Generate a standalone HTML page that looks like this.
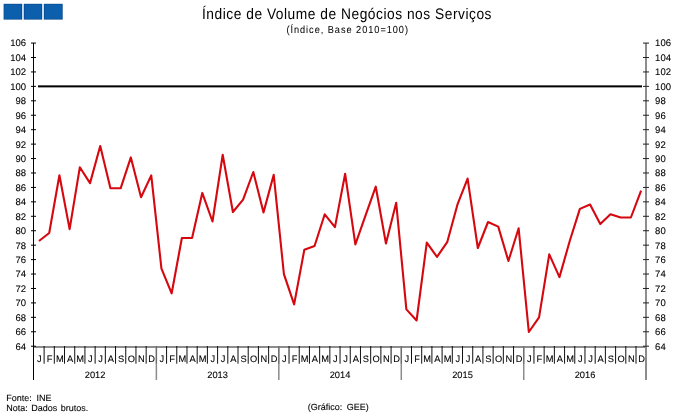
<!DOCTYPE html><html><head><meta charset="utf-8"><style>html,body{margin:0;padding:0;background:#fff;width:681px;height:418px;overflow:hidden}svg{display:block}text{font-family:"Liberation Sans",sans-serif;text-rendering:geometricPrecision;stroke:#000;stroke-width:0.1px}</style></head><body>
<svg width="681" height="418" viewBox="0 0 681 418">
<rect x="22" y="4" width="2" height="15.5" fill="#c8def0"/>
<rect x="42" y="4" width="2" height="15.5" fill="#c8def0"/>
<rect x="3.6" y="3.8" width="18.4" height="15.8" fill="#0a4d92"/>
<rect x="4.4" y="4.6" width="16.8" height="14.2" fill="#0c5fad"/>
<rect x="23.9" y="3.8" width="18.1" height="15.8" fill="#0a4d92"/>
<rect x="24.7" y="4.6" width="16.5" height="14.2" fill="#0c5fad"/>
<rect x="44" y="3.8" width="18.7" height="15.8" fill="#0a4d92"/>
<rect x="44.8" y="4.6" width="17.1" height="14.2" fill="#0c5fad"/>
<g style="filter:grayscale(1)">
<g transform="translate(202,18.7) scale(0.9,1)"><text x="0" y="0" font-size="15.3" fill="#000" style="stroke:none" textLength="321.67" lengthAdjust="spacing">Índice de Volume de Negócios nos Serviços</text></g>
<g transform="translate(286.4,32.9) scale(0.9,1)"><text x="0" y="0" font-size="10.2" fill="#000" style="stroke-width:0.05px" textLength="135.11" lengthAdjust="spacing">(Índice, Base 2010=100)</text></g>
<rect x="38" y="85.37" width="604" height="2" fill="#000"/>
<rect x="33" y="43" width="1" height="337" fill="#000"/>
<rect x="645" y="43" width="2" height="337" fill="#8c8c8c"/>
<rect x="34" y="346" width="611" height="2" fill="#8c8c8c"/>
<rect x="31" y="345.70" width="5" height="1" fill="#000"/>
<rect x="643" y="345.70" width="6" height="1" fill="#222"/>
<text x="26" y="349.60" font-size="9.5" text-anchor="end" fill="#000">64</text>
<text x="655.1" y="349.60" font-size="9.5" fill="#000">64</text>
<rect x="31" y="331.27" width="5" height="1" fill="#000"/>
<rect x="643" y="331.27" width="6" height="1" fill="#222"/>
<text x="26" y="335.17" font-size="9.5" text-anchor="end" fill="#000">66</text>
<text x="655.1" y="335.17" font-size="9.5" fill="#000">66</text>
<rect x="31" y="316.83" width="5" height="1" fill="#000"/>
<rect x="643" y="316.83" width="6" height="1" fill="#222"/>
<text x="26" y="320.73" font-size="9.5" text-anchor="end" fill="#000">68</text>
<text x="655.1" y="320.73" font-size="9.5" fill="#000">68</text>
<rect x="31" y="302.40" width="5" height="1" fill="#000"/>
<rect x="643" y="302.40" width="6" height="1" fill="#222"/>
<text x="26" y="306.30" font-size="9.5" text-anchor="end" fill="#000">70</text>
<text x="655.1" y="306.30" font-size="9.5" fill="#000">70</text>
<rect x="31" y="287.96" width="5" height="1" fill="#000"/>
<rect x="643" y="287.96" width="6" height="1" fill="#222"/>
<text x="26" y="291.86" font-size="9.5" text-anchor="end" fill="#000">72</text>
<text x="655.1" y="291.86" font-size="9.5" fill="#000">72</text>
<rect x="31" y="273.53" width="5" height="1" fill="#000"/>
<rect x="643" y="273.53" width="6" height="1" fill="#222"/>
<text x="26" y="277.43" font-size="9.5" text-anchor="end" fill="#000">74</text>
<text x="655.1" y="277.43" font-size="9.5" fill="#000">74</text>
<rect x="31" y="259.09" width="5" height="1" fill="#000"/>
<rect x="643" y="259.09" width="6" height="1" fill="#222"/>
<text x="26" y="262.99" font-size="9.5" text-anchor="end" fill="#000">76</text>
<text x="655.1" y="262.99" font-size="9.5" fill="#000">76</text>
<rect x="31" y="244.66" width="5" height="1" fill="#000"/>
<rect x="643" y="244.66" width="6" height="1" fill="#222"/>
<text x="26" y="248.56" font-size="9.5" text-anchor="end" fill="#000">78</text>
<text x="655.1" y="248.56" font-size="9.5" fill="#000">78</text>
<rect x="31" y="230.22" width="5" height="1" fill="#000"/>
<rect x="643" y="230.22" width="6" height="1" fill="#222"/>
<text x="26" y="234.12" font-size="9.5" text-anchor="end" fill="#000">80</text>
<text x="655.1" y="234.12" font-size="9.5" fill="#000">80</text>
<rect x="31" y="215.79" width="5" height="1" fill="#000"/>
<rect x="643" y="215.79" width="6" height="1" fill="#222"/>
<text x="26" y="219.69" font-size="9.5" text-anchor="end" fill="#000">82</text>
<text x="655.1" y="219.69" font-size="9.5" fill="#000">82</text>
<rect x="31" y="201.35" width="5" height="1" fill="#000"/>
<rect x="643" y="201.35" width="6" height="1" fill="#222"/>
<text x="26" y="205.25" font-size="9.5" text-anchor="end" fill="#000">84</text>
<text x="655.1" y="205.25" font-size="9.5" fill="#000">84</text>
<rect x="31" y="186.92" width="5" height="1" fill="#000"/>
<rect x="643" y="186.92" width="6" height="1" fill="#222"/>
<text x="26" y="190.82" font-size="9.5" text-anchor="end" fill="#000">86</text>
<text x="655.1" y="190.82" font-size="9.5" fill="#000">86</text>
<rect x="31" y="172.48" width="5" height="1" fill="#000"/>
<rect x="643" y="172.48" width="6" height="1" fill="#222"/>
<text x="26" y="176.38" font-size="9.5" text-anchor="end" fill="#000">88</text>
<text x="655.1" y="176.38" font-size="9.5" fill="#000">88</text>
<rect x="31" y="158.05" width="5" height="1" fill="#000"/>
<rect x="643" y="158.05" width="6" height="1" fill="#222"/>
<text x="26" y="161.95" font-size="9.5" text-anchor="end" fill="#000">90</text>
<text x="655.1" y="161.95" font-size="9.5" fill="#000">90</text>
<rect x="31" y="143.61" width="5" height="1" fill="#000"/>
<rect x="643" y="143.61" width="6" height="1" fill="#222"/>
<text x="26" y="147.51" font-size="9.5" text-anchor="end" fill="#000">92</text>
<text x="655.1" y="147.51" font-size="9.5" fill="#000">92</text>
<rect x="31" y="129.18" width="5" height="1" fill="#000"/>
<rect x="643" y="129.18" width="6" height="1" fill="#222"/>
<text x="26" y="133.08" font-size="9.5" text-anchor="end" fill="#000">94</text>
<text x="655.1" y="133.08" font-size="9.5" fill="#000">94</text>
<rect x="31" y="114.74" width="5" height="1" fill="#000"/>
<rect x="643" y="114.74" width="6" height="1" fill="#222"/>
<text x="26" y="118.64" font-size="9.5" text-anchor="end" fill="#000">96</text>
<text x="655.1" y="118.64" font-size="9.5" fill="#000">96</text>
<rect x="31" y="100.31" width="5" height="1" fill="#000"/>
<rect x="643" y="100.31" width="6" height="1" fill="#222"/>
<text x="26" y="104.21" font-size="9.5" text-anchor="end" fill="#000">98</text>
<text x="655.1" y="104.21" font-size="9.5" fill="#000">98</text>
<rect x="31" y="85.87" width="5" height="1" fill="#000"/>
<rect x="643" y="85.87" width="6" height="1" fill="#222"/>
<text x="26" y="89.77" font-size="9.5" text-anchor="end" fill="#000">100</text>
<text x="655.1" y="89.77" font-size="9.5" fill="#000">100</text>
<rect x="31" y="71.44" width="5" height="1" fill="#000"/>
<rect x="643" y="71.44" width="6" height="1" fill="#222"/>
<text x="26" y="75.34" font-size="9.5" text-anchor="end" fill="#000">102</text>
<text x="655.1" y="75.34" font-size="9.5" fill="#000">102</text>
<rect x="31" y="57.00" width="5" height="1" fill="#000"/>
<rect x="643" y="57.00" width="6" height="1" fill="#222"/>
<text x="26" y="60.91" font-size="9.5" text-anchor="end" fill="#000">104</text>
<text x="655.1" y="60.91" font-size="9.5" fill="#000">104</text>
<rect x="31" y="42.57" width="5" height="1" fill="#000"/>
<rect x="643" y="42.57" width="6" height="1" fill="#222"/>
<text x="26" y="46.47" font-size="9.5" text-anchor="end" fill="#000">106</text>
<text x="655.1" y="46.47" font-size="9.5" fill="#000">106</text>
<rect x="43.61" y="346" width="1" height="17.7" fill="#111"/>
<text x="39.40" y="361.6" font-size="9.3" text-anchor="middle" fill="#000">J</text>
<rect x="53.81" y="346" width="1" height="17.7" fill="#111"/>
<text x="49.61" y="361.6" font-size="9.3" text-anchor="middle" fill="#000">F</text>
<rect x="64.02" y="346" width="1" height="17.7" fill="#111"/>
<text x="59.81" y="361.6" font-size="9.3" text-anchor="middle" fill="#000">M</text>
<rect x="74.22" y="346" width="1" height="17.7" fill="#111"/>
<text x="70.02" y="361.6" font-size="9.3" text-anchor="middle" fill="#000">A</text>
<rect x="84.43" y="346" width="1" height="17.7" fill="#111"/>
<text x="80.22" y="361.6" font-size="9.3" text-anchor="middle" fill="#000">M</text>
<rect x="94.63" y="346" width="1" height="17.7" fill="#111"/>
<text x="90.43" y="361.6" font-size="9.3" text-anchor="middle" fill="#000">J</text>
<rect x="104.84" y="346" width="1" height="17.7" fill="#111"/>
<text x="100.63" y="361.6" font-size="9.3" text-anchor="middle" fill="#000">J</text>
<rect x="115.04" y="346" width="1" height="17.7" fill="#111"/>
<text x="110.84" y="361.6" font-size="9.3" text-anchor="middle" fill="#000">A</text>
<rect x="125.25" y="346" width="1" height="17.7" fill="#111"/>
<text x="121.04" y="361.6" font-size="9.3" text-anchor="middle" fill="#000">S</text>
<rect x="135.45" y="346" width="1" height="17.7" fill="#111"/>
<text x="131.25" y="361.6" font-size="9.3" text-anchor="middle" fill="#000">O</text>
<rect x="145.66" y="346" width="1" height="17.7" fill="#111"/>
<text x="141.45" y="361.6" font-size="9.3" text-anchor="middle" fill="#000">N</text>
<rect x="155.61" y="346" width="1.5" height="34" fill="#8c8c8c"/>
<rect x="155.86" y="346" width="1" height="17.7" fill="#666"/>
<text x="151.66" y="361.6" font-size="9.3" text-anchor="middle" fill="#000">D</text>
<rect x="166.07" y="346" width="1" height="17.7" fill="#111"/>
<text x="161.86" y="361.6" font-size="9.3" text-anchor="middle" fill="#000">J</text>
<rect x="176.27" y="346" width="1" height="17.7" fill="#111"/>
<text x="172.07" y="361.6" font-size="9.3" text-anchor="middle" fill="#000">F</text>
<rect x="186.48" y="346" width="1" height="17.7" fill="#111"/>
<text x="182.27" y="361.6" font-size="9.3" text-anchor="middle" fill="#000">M</text>
<rect x="196.68" y="346" width="1" height="17.7" fill="#111"/>
<text x="192.48" y="361.6" font-size="9.3" text-anchor="middle" fill="#000">A</text>
<rect x="206.89" y="346" width="1" height="17.7" fill="#111"/>
<text x="202.68" y="361.6" font-size="9.3" text-anchor="middle" fill="#000">M</text>
<rect x="217.09" y="346" width="1" height="17.7" fill="#111"/>
<text x="212.89" y="361.6" font-size="9.3" text-anchor="middle" fill="#000">J</text>
<rect x="227.30" y="346" width="1" height="17.7" fill="#111"/>
<text x="223.09" y="361.6" font-size="9.3" text-anchor="middle" fill="#000">J</text>
<rect x="237.50" y="346" width="1" height="17.7" fill="#111"/>
<text x="233.30" y="361.6" font-size="9.3" text-anchor="middle" fill="#000">A</text>
<rect x="247.71" y="346" width="1" height="17.7" fill="#111"/>
<text x="243.50" y="361.6" font-size="9.3" text-anchor="middle" fill="#000">S</text>
<rect x="257.91" y="346" width="1" height="17.7" fill="#111"/>
<text x="253.71" y="361.6" font-size="9.3" text-anchor="middle" fill="#000">O</text>
<rect x="268.12" y="346" width="1" height="17.7" fill="#111"/>
<text x="263.91" y="361.6" font-size="9.3" text-anchor="middle" fill="#000">N</text>
<rect x="278.07" y="346" width="1.5" height="34" fill="#8c8c8c"/>
<rect x="278.32" y="346" width="1" height="17.7" fill="#666"/>
<text x="274.12" y="361.6" font-size="9.3" text-anchor="middle" fill="#000">D</text>
<rect x="288.53" y="346" width="1" height="17.7" fill="#111"/>
<text x="284.32" y="361.6" font-size="9.3" text-anchor="middle" fill="#000">J</text>
<rect x="298.73" y="346" width="1" height="17.7" fill="#111"/>
<text x="294.53" y="361.6" font-size="9.3" text-anchor="middle" fill="#000">F</text>
<rect x="308.94" y="346" width="1" height="17.7" fill="#111"/>
<text x="304.73" y="361.6" font-size="9.3" text-anchor="middle" fill="#000">M</text>
<rect x="319.14" y="346" width="1" height="17.7" fill="#111"/>
<text x="314.94" y="361.6" font-size="9.3" text-anchor="middle" fill="#000">A</text>
<rect x="329.35" y="346" width="1" height="17.7" fill="#111"/>
<text x="325.14" y="361.6" font-size="9.3" text-anchor="middle" fill="#000">M</text>
<rect x="339.55" y="346" width="1" height="17.7" fill="#111"/>
<text x="335.35" y="361.6" font-size="9.3" text-anchor="middle" fill="#000">J</text>
<rect x="349.76" y="346" width="1" height="17.7" fill="#111"/>
<text x="345.55" y="361.6" font-size="9.3" text-anchor="middle" fill="#000">J</text>
<rect x="359.96" y="346" width="1" height="17.7" fill="#111"/>
<text x="355.76" y="361.6" font-size="9.3" text-anchor="middle" fill="#000">A</text>
<rect x="370.17" y="346" width="1" height="17.7" fill="#111"/>
<text x="365.96" y="361.6" font-size="9.3" text-anchor="middle" fill="#000">S</text>
<rect x="380.37" y="346" width="1" height="17.7" fill="#111"/>
<text x="376.17" y="361.6" font-size="9.3" text-anchor="middle" fill="#000">O</text>
<rect x="390.58" y="346" width="1" height="17.7" fill="#111"/>
<text x="386.37" y="361.6" font-size="9.3" text-anchor="middle" fill="#000">N</text>
<rect x="400.53" y="346" width="1.5" height="34" fill="#8c8c8c"/>
<rect x="400.78" y="346" width="1" height="17.7" fill="#666"/>
<text x="396.58" y="361.6" font-size="9.3" text-anchor="middle" fill="#000">D</text>
<rect x="410.99" y="346" width="1" height="17.7" fill="#111"/>
<text x="406.78" y="361.6" font-size="9.3" text-anchor="middle" fill="#000">J</text>
<rect x="421.19" y="346" width="1" height="17.7" fill="#111"/>
<text x="416.99" y="361.6" font-size="9.3" text-anchor="middle" fill="#000">F</text>
<rect x="431.40" y="346" width="1" height="17.7" fill="#111"/>
<text x="427.19" y="361.6" font-size="9.3" text-anchor="middle" fill="#000">M</text>
<rect x="441.60" y="346" width="1" height="17.7" fill="#111"/>
<text x="437.40" y="361.6" font-size="9.3" text-anchor="middle" fill="#000">A</text>
<rect x="451.81" y="346" width="1" height="17.7" fill="#111"/>
<text x="447.60" y="361.6" font-size="9.3" text-anchor="middle" fill="#000">M</text>
<rect x="462.01" y="346" width="1" height="17.7" fill="#111"/>
<text x="457.81" y="361.6" font-size="9.3" text-anchor="middle" fill="#000">J</text>
<rect x="472.22" y="346" width="1" height="17.7" fill="#111"/>
<text x="468.01" y="361.6" font-size="9.3" text-anchor="middle" fill="#000">J</text>
<rect x="482.42" y="346" width="1" height="17.7" fill="#111"/>
<text x="478.22" y="361.6" font-size="9.3" text-anchor="middle" fill="#000">A</text>
<rect x="492.63" y="346" width="1" height="17.7" fill="#111"/>
<text x="488.42" y="361.6" font-size="9.3" text-anchor="middle" fill="#000">S</text>
<rect x="502.83" y="346" width="1" height="17.7" fill="#111"/>
<text x="498.63" y="361.6" font-size="9.3" text-anchor="middle" fill="#000">O</text>
<rect x="513.04" y="346" width="1" height="17.7" fill="#111"/>
<text x="508.83" y="361.6" font-size="9.3" text-anchor="middle" fill="#000">N</text>
<rect x="522.99" y="346" width="1.5" height="34" fill="#8c8c8c"/>
<rect x="523.24" y="346" width="1" height="17.7" fill="#666"/>
<text x="519.04" y="361.6" font-size="9.3" text-anchor="middle" fill="#000">D</text>
<rect x="533.45" y="346" width="1" height="17.7" fill="#111"/>
<text x="529.24" y="361.6" font-size="9.3" text-anchor="middle" fill="#000">J</text>
<rect x="543.65" y="346" width="1" height="17.7" fill="#111"/>
<text x="539.45" y="361.6" font-size="9.3" text-anchor="middle" fill="#000">F</text>
<rect x="553.86" y="346" width="1" height="17.7" fill="#111"/>
<text x="549.65" y="361.6" font-size="9.3" text-anchor="middle" fill="#000">M</text>
<rect x="564.06" y="346" width="1" height="17.7" fill="#111"/>
<text x="559.86" y="361.6" font-size="9.3" text-anchor="middle" fill="#000">A</text>
<rect x="574.27" y="346" width="1" height="17.7" fill="#111"/>
<text x="570.06" y="361.6" font-size="9.3" text-anchor="middle" fill="#000">M</text>
<rect x="584.47" y="346" width="1" height="17.7" fill="#111"/>
<text x="580.27" y="361.6" font-size="9.3" text-anchor="middle" fill="#000">J</text>
<rect x="594.68" y="346" width="1" height="17.7" fill="#111"/>
<text x="590.47" y="361.6" font-size="9.3" text-anchor="middle" fill="#000">J</text>
<rect x="604.88" y="346" width="1" height="17.7" fill="#111"/>
<text x="600.68" y="361.6" font-size="9.3" text-anchor="middle" fill="#000">A</text>
<rect x="615.09" y="346" width="1" height="17.7" fill="#111"/>
<text x="610.88" y="361.6" font-size="9.3" text-anchor="middle" fill="#000">S</text>
<rect x="625.29" y="346" width="1" height="17.7" fill="#111"/>
<text x="621.09" y="361.6" font-size="9.3" text-anchor="middle" fill="#000">O</text>
<rect x="635.50" y="346" width="1" height="17.7" fill="#111"/>
<text x="631.29" y="361.6" font-size="9.3" text-anchor="middle" fill="#000">N</text>
<text x="641.50" y="361.6" font-size="9.3" text-anchor="middle" fill="#000">D</text>
<text x="95.13" y="377.8" font-size="9.3" text-anchor="middle" fill="#000">2012</text>
<text x="217.59" y="377.8" font-size="9.3" text-anchor="middle" fill="#000">2013</text>
<text x="340.05" y="377.8" font-size="9.3" text-anchor="middle" fill="#000">2014</text>
<text x="462.51" y="377.8" font-size="9.3" text-anchor="middle" fill="#000">2015</text>
<text x="584.97" y="377.8" font-size="9.3" text-anchor="middle" fill="#000">2016</text>
</g>
<polyline points="39.00,241.00 49.21,233.00 59.41,175.30 69.62,229.10 79.82,167.30 90.03,183.10 100.23,146.00 110.44,188.30 120.64,188.30 130.85,157.40 141.05,197.30 151.26,175.40 161.46,268.60 171.67,293.30 181.87,238.00 192.08,238.00 202.28,192.90 212.49,221.50 222.69,154.80 232.90,212.00 243.10,199.60 253.31,172.00 263.51,212.40 273.72,174.80 283.92,274.20 294.13,304.40 304.33,249.70 314.54,246.00 324.74,214.30 334.95,227.10 345.15,173.80 355.36,244.40 365.56,215.30 375.77,186.70 385.97,243.50 396.18,202.70 406.38,309.40 416.59,320.50 426.79,242.60 437.00,256.80 447.20,242.20 457.41,204.70 467.61,178.60 477.82,248.00 488.02,222.00 498.23,226.60 508.43,261.00 518.64,228.30 528.84,332.00 539.05,317.40 549.25,254.40 559.46,277.10 569.66,241.30 579.87,208.90 590.07,204.50 600.28,224.00 610.48,214.20 620.69,217.50 630.89,217.50 641.10,190.60" fill="none" stroke="#d6080f" stroke-width="2.1" stroke-linejoin="round"/>
<g style="filter:grayscale(1)">
<text x="6.3" y="400.7" font-size="9.0" fill="#000" word-spacing="2.2">Fonte: INE</text>
<text x="6.3" y="410.7" font-size="9.0" fill="#000" word-spacing="1">Nota: Dados brutos.</text>
<text x="307.7" y="409.8" font-size="9.0" fill="#000" word-spacing="2">(Gráfico: GEE)</text>
</g>
</svg></body></html>
